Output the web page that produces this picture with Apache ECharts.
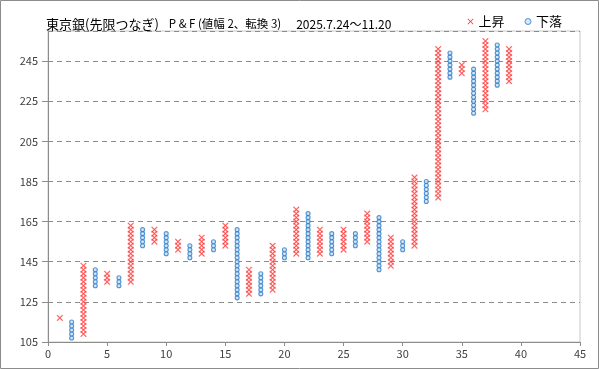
<!DOCTYPE html>
<html><head><meta charset="utf-8">
<script src="https://cdn.jsdelivr.net/npm/echarts@6/dist/echarts.min.js"></script>
<style>html,body{margin:0;padding:0;background:#fff}#c{width:599px;height:369px}</style>
</head><body><div id="c"></div>
<script>
// Point & Figure columns (box size 2, reversal 3)
const colIndex = [1,2,3,4,5,6,7,8,9,10,11,12,13,14,15,16,17,18,19,20,21,22,23,24,25,26,27,28,29,30,31,32,33,34,35,36,37,38,39];
const colType  = ['X','O','X','O','X','O','X','O','X','O','X','O','X','O','X','O','X','O','X','O','X','O','X','O','X','O','X','O','X','O','X','O','X','O','X','O','X','O','X'];
const colLow   = [117,107,109,133,135,133,135,153,155,149,151,147,149,151,153,127,129,129,131,147,149,147,149,149,151,153,155,141,143,151,153,175,177,237,239,219,221,233,235];
const colHigh  = [117,115,143,141,139,137,163,161,161,159,155,153,157,155,163,161,141,139,153,151,171,169,161,159,161,159,169,167,157,155,187,185,251,249,243,241,255,253,251];
const boxSize = 2;
const xTicks = [0,5,10,15,20,25,30,35,40,45];
const yTicks = [105,125,145,165,185,205,225,245];

const upPts = [], downPts = [];
colIndex.forEach((c, i) => {
  const arr = colType[i] === 'X' ? upPts : downPts;
  for (let v = colLow[i]; v <= colHigh[i]; v += boxSize) arr.push([c, v]);
});

const xPath = 'path://M0,1L1,0L5,4L9,0L10,1L6,5L10,9L9,10L5,6L1,10L0,9L4,5Z';
const chart = echarts.init(document.getElementById('c'), null, {renderer: 'canvas'});
const font = '"Noto Sans CJK JP", "Noto Sans", sans-serif';
chart.setOption({
  animation: false,
  backgroundColor: '#fff',
  graphic: [{type: 'rect', shape: {x: 0.5, y: 0.5, width: 598, height: 368}, style: {fill: null, stroke: '#8c8c8c', lineWidth: 1}, silent: true}],
  title: {
    left: 41, top: 10,
    text: '{a|東京銀(先限つなぎ)}  {b|P & F (値幅 2、転換 3)}   {c|2025.7.24～11.20}',
    textStyle: {
      fontWeight: 'normal',
      rich: {
        a: {fontSize: 13, color: '#000', fontFamily: font, fontWeight: 'normal'},
        b: {fontSize: 11.5, color: '#000', fontFamily: font, fontWeight: 'normal'},
        c: {fontSize: 12, color: '#000', fontFamily: font, fontWeight: 'normal'}
      }
    }
  },
  legend: {
    right: 32, top: 10, itemGap: 20, itemWidth: 6, itemHeight: 6,
    textStyle: {fontSize: 13, color: '#000', fontFamily: font},
    data: [
      {name: '上昇', icon: xPath, itemStyle: {color: '#ff0000', borderWidth: 0}},
      {name: '下落', icon: 'circle', itemStyle: {color: '#cfe3f5', borderColor: '#2a7ac8', borderWidth: 1}}
    ]
  },
  grid: {left: 48, right: 19, top: 31, bottom: 27, show: true, borderColor: '#c8c8c8', borderWidth: 1},
  xAxis: {
    type: 'value', min: xTicks[0], max: xTicks[xTicks.length-1], interval: 5,
    axisLine: {lineStyle: {color: '#8c8c8c'}},
    axisTick: {show: true, inside: false, length: 4, lineStyle: {color: '#8c8c8c'}},
    axisLabel: {fontSize: 11, color: '#404040', margin: 6, fontFamily: font},
    splitLine: {show: false}
  },
  yAxis: {
    type: 'value', min: yTicks[0], max: 260, interval: 20,
    axisLine: {show: true, lineStyle: {color: '#8c8c8c'}},
    axisTick: {show: true, inside: false, length: 6, lineStyle: {color: '#8c8c8c'}},
    axisLabel: {fontSize: 11, color: '#404040', margin: 10, showMaxLabel: false, fontFamily: font},
    splitLine: {show: true, lineStyle: {color: '#8c8c8c', type: [5,4], width: 1}}
  },
  series: [
    {name: '上昇', type: 'scatter', data: upPts, symbol: xPath, symbolSize: [6,6],
     itemStyle: {color: '#ff0000', borderColor: 'rgba(255,140,140,0.55)', borderWidth: 1}},
    {name: '下落', type: 'scatter', data: downPts, symbol: 'circle', symbolSize: 4,
     itemStyle: {color: '#c9e0f4', borderColor: '#2a7ac8', borderWidth: 1.1}}
  ]
});
</script></body></html>
